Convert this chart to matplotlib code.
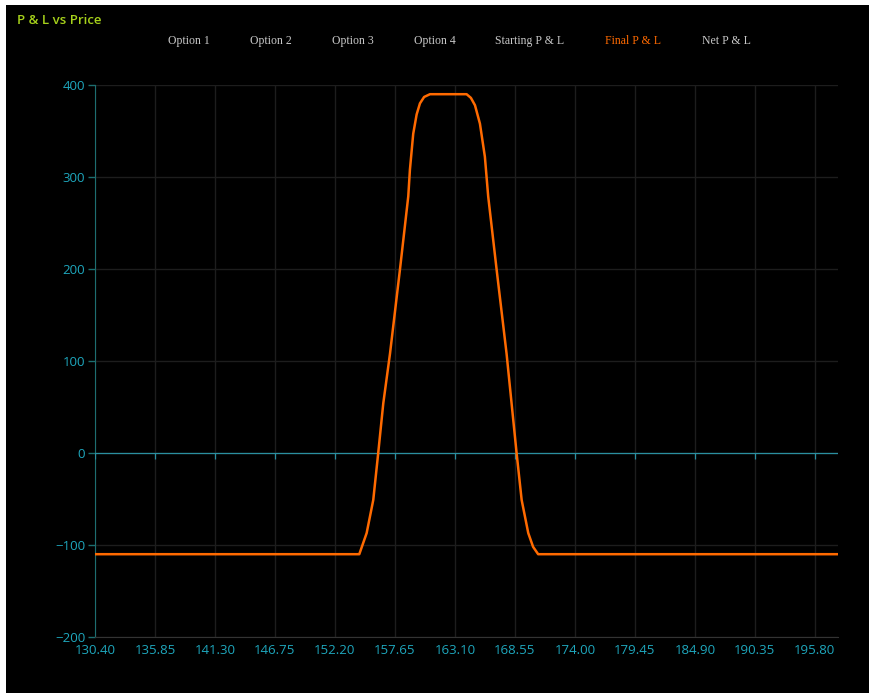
import matplotlib.pyplot as plt
import numpy as np
from matplotlib.patches import Rectangle

# legend labels (series names shown in the header)
series_names = ["Option 1", "Option 2", "Option 3", "Option 4",
                "Starting P & L", "Final P & L", "Net P & L"]
series_colors = ["#c8c8c8", "#c8c8c8", "#c8c8c8", "#c8c8c8",
                 "#c8c8c8", "#ff6a00", "#c8c8c8"]

# Final P & L curve
price = [130.40, 154.41, 155.08, 155.68, 156.13, 156.59, 157.20, 158.10,
         158.86, 159.01, 159.31, 159.62, 159.92, 160.30, 160.83, 164.16,
         164.55, 164.92, 165.37, 165.82, 166.12, 166.89, 167.79, 168.70,
         169.16, 169.76, 170.20, 170.66, 197.90]
final_pl = [-110, -110, -87, -51, 0, 54, 108, 199,
            279, 308, 347, 368, 380, 387, 390, 390,
            386, 378, 358, 322, 279, 199, 108, 0,
            -51, -87, -102, -110, -110]

x_ticks = [130.40, 135.85, 141.30, 146.75, 152.20, 157.65, 163.10,
           168.55, 174.00, 179.45, 184.90, 190.35, 195.80]
y_ticks = [-200, -100, 0, 100, 200, 300, 400]

teal = "#1ea7bd"
grid_c = "#1d1d1d"

fig = plt.figure(figsize=(8.7, 6.93), dpi=100, facecolor="white")
# black panel with a thin white edge on top and left
fig.patches.append(Rectangle((6/870, 0), 1, 1 - 5/693, transform=fig.transFigure,
                             facecolor="black", edgecolor="none", zorder=-5))

ax = fig.add_axes([95/870, 1 - 637/693, (838 - 95)/870, (637 - 85)/693])
ax.set_facecolor("black")
ax.set_zorder(2)

ax.plot(price, final_pl, color="#ff6a00", lw=1.8, zorder=4,
        solid_joinstyle="round")

# zero line with little tick marks
ax.axhline(0, color="#2a8fa0", lw=0.9, zorder=3)
ax.plot(x_ticks, [0]*len(x_ticks), ls="none", marker=3, ms=4, mew=0.9,
        color="#2a8fa0", zorder=3)

ax.set_xlim(130.40, 197.90)
ax.set_ylim(-200, 400)
ax.set_xticks(x_ticks)
ax.set_xticklabels(["%.2f" % v for v in x_ticks])
ax.set_yticks(y_ticks)
ax.grid(True, color=grid_c, lw=1)
ax.set_axisbelow(True)

for s in ["top", "right"]:
    ax.spines[s].set_visible(False)
ax.spines["left"].set_color("#1d6e70")
ax.spines["bottom"].set_color("#333333")
ax.tick_params(axis="y", colors=teal, length=5, width=1, labelsize=9.5, pad=2)
ax.tick_params(axis="x", colors=teal, length=0, labelsize=9.5, pad=5)
ax.tick_params(axis="y", color="#1d6e70")
for lab in ax.get_xticklabels() + ax.get_yticklabels():
    lab.set_family("Open Sans")

fig.text(17/870, 1 - 20/693, "P & L vs Price", color="#a6d11b", fontsize=9.5,
         family="Open Sans", weight="semibold", va="center", ha="left")

leg_x = [189, 271, 353, 435, 530, 633, 726]
for name, c, xp in zip(series_names, series_colors, leg_x):
    fig.text(xp/870, 1 - 41/693, name, color=c, fontsize=8.5,
             family="Liberation Serif", va="center", ha="center")

fig.savefig("out.png", dpi=100, facecolor=fig.get_facecolor())
